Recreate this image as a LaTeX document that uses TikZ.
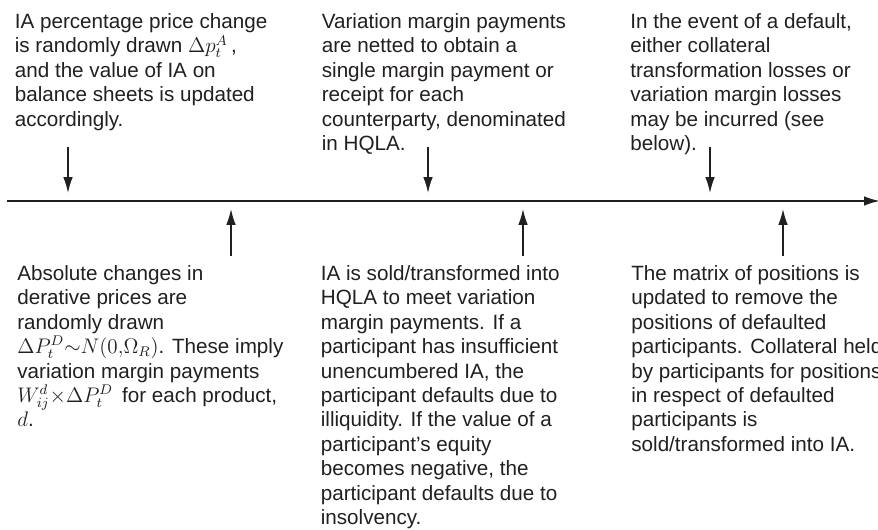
\documentclass[tikz,border=0pt]{standalone}
\usepackage{fontspec}
\setmainfont{Liberation Sans}
\usetikzlibrary{arrows.meta}

\definecolor{inkcolor}{RGB}{35,31,32}

\tikzset{
  note/.style={anchor=north west, inner sep=0pt, align=left, text=inkcolor,
    font=\fontsize{11.75}{13.9}\selectfont},
  timeline/.style={line width=1.1pt, draw=inkcolor, -{Latex[length=9pt,width=5.4pt]}},
  steparrow/.style={line width=0.8pt, draw=inkcolor, -{Latex[length=9pt,width=5.4pt]}},
}

\begin{document}
\begin{tikzpicture}
      \useasboundingbox (0,0) rectangle (17.56,10.6);

      % Notes above the timeline
      \node[note] (pricechange) at (0.29,10.34) {IA percentage price change\\
        is randomly drawn $\Delta p_t^A$\,,\\
        and the value of IA on\\
        balance sheets is updated\\
        accordingly.};
      \node[note] (netting) at (6.43,10.34) {Variation margin payments\\
        are netted to obtain a\\
        single margin payment or\\
        receipt for each\\
        counterparty, denominated\\
        in HQLA.};
      \node[note] (losses) at (12.6,10.34) {In the event of a default,\\
        either collateral\\
        transformation losses or\\
        variation margin losses\\
        may be incurred (see\\
        below).};

      % Notes below the timeline
      \node[note] (derivprices) at (0.34,5.3) {Absolute changes in\\
        derative prices are\\
        randomly drawn\\
        $\Delta P_t^D{\sim}N(0,\!\Omega_R)$. These imply\\
        variation margin payments\\
        $W_{ij}^d{\times}\Delta P_t^D$\, for each product,\\
        $d$.};
      \node[note] (transform) at (6.41,5.3) {IA is sold/transformed into\\
        HQLA to meet variation\\
        margin payments. If a\\
        participant has insufficient\\
        unencumbered IA, the\\
        participant defaults due to\\
        illiquidity. If the value of a\\
        participant's equity\\
        becomes negative, the\\
        participant defaults due to\\
        insolvency.};
      \node[note] (positions) at (12.62,5.3) {The matrix of positions is\\
        updated to remove the\\
        positions of defaulted\\
        participants. Collateral held\\
        by participants for positions\\
        in respect of defaulted\\
        participants is\\
        sold/transformed into IA.};

      % Timeline
      \coordinate (tstart) at (0.14,6.58);
      \coordinate (tend) at (17.6,6.58);
      \draw[timeline] (tstart) -- (tend);

      % Arrows from above down to the timeline
      \foreach \n/\x in {1/1.36,2/8.56,3/14.2} {
        \coordinate (down\n) at (\x,7.66);
        \coordinate (downtip\n) at (\x,6.74);
        \draw[steparrow] (down\n) -- (downtip\n);
      }

      % Arrows from below up to the timeline
      \foreach \n/\x in {1/4.62,2/10.46,3/15.66} {
        \coordinate (up\n) at (\x,5.48);
        \coordinate (uptip\n) at (\x,6.42);
        \draw[steparrow] (up\n) -- (uptip\n);
      }
    \end{tikzpicture}
\end{document}
